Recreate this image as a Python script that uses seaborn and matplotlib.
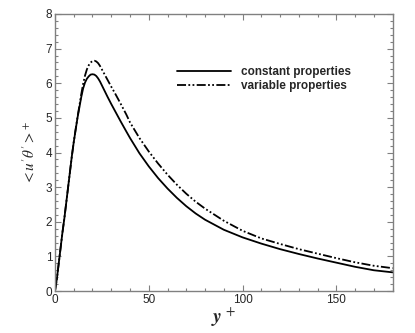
import numpy as np
import pandas as pd
import matplotlib
matplotlib.use("Agg")
import matplotlib.pyplot as plt
import seaborn as sns
from matplotlib.ticker import MultipleLocator

# wall distance y+ and heat flux values
y_plus = [0, 1, 2, 3, 4, 5, 6, 7, 8, 9, 10, 11, 12, 13, 14, 15, 16, 17, 18, 19,
          20, 21, 22, 23, 24, 26, 28, 30, 32, 35, 38, 40, 45, 50, 55, 60, 65, 70,
          75, 80, 90, 100, 110, 120, 130, 140, 150, 160, 170, 180]

constant = [0, 0.35, 0.8, 1.25, 1.7, 2.1, 2.55, 3.0, 3.45, 3.9, 4.3, 4.65, 5.0,
            5.3, 5.6, 5.85, 6.02, 6.13, 6.2, 6.25, 6.26, 6.25, 6.21, 6.14, 6.05,
            5.83, 5.61, 5.4, 5.2, 4.9, 4.61, 4.42, 3.98, 3.6, 3.26, 2.96, 2.69,
            2.45, 2.24, 2.06, 1.77, 1.55, 1.37, 1.21, 1.07, 0.94, 0.82, 0.7,
            0.6, 0.54]

variable = [0, 0.35, 0.8, 1.25, 1.7, 2.1, 2.55, 3.0, 3.45, 3.9, 4.3, 4.67, 5.02,
            5.35, 5.68, 5.98, 6.22, 6.4, 6.52, 6.6, 6.64, 6.65, 6.63, 6.58, 6.5,
            6.3, 6.1, 5.9, 5.71, 5.41, 5.1, 4.87, 4.42, 4.03, 3.68, 3.36, 3.07,
            2.81, 2.58, 2.38, 2.03, 1.74, 1.52, 1.36, 1.21, 1.08, 0.95, 0.83,
            0.73, 0.66]

labels = ["constant properties", "variable properties"]

df = pd.concat([
    pd.DataFrame({"y+": y_plus, "flux": constant, "case": labels[0]}),
    pd.DataFrame({"y+": y_plus, "flux": variable, "case": labels[1]}),
])

sns.set_style("ticks")
plt.rcParams["font.family"] = ["Liberation Sans", "DejaVu Sans"]
plt.rcParams["mathtext.fontset"] = "stix"

fig = plt.figure(figsize=(4.15, 3.33), dpi=100)
ax = fig.add_axes([0.1325, 0.126, 0.8135, 0.832])

sns.lineplot(data=df, x="y+", y="flux", hue="case", style="case",
             palette=["black", "black"],
             dashes={labels[0]: "", labels[1]: (5, 1.3, 1, 1.3, 1, 1.3)},
             linewidth=1.3, ax=ax, sort=False, estimator=None)

ax.set_xlim(0, 180)
ax.set_ylim(0, 8)
ax.xaxis.set_major_locator(MultipleLocator(50))
ax.xaxis.set_minor_locator(MultipleLocator(10))
ax.yaxis.set_major_locator(MultipleLocator(1))
ax.yaxis.set_minor_locator(MultipleLocator(0.2))
ax.tick_params(which="both", direction="in", top=True, right=True,
               color="#808080", labelsize=8.5, pad=2)
ax.tick_params(which="major", length=4.5, width=0.8)
ax.tick_params(which="minor", length=2.5, width=0.8)
for s in ax.spines.values():
    s.set_color("#808080")
    s.set_linewidth(1.0)

ax.set_xlabel(r"$\mathbfit{y}^{\,+}$", fontsize=14, labelpad=0)
ax.set_ylabel(r"$<\mathit{u}'\theta'>^{+}$", fontsize=11, labelpad=6)

leg = ax.legend(loc="upper left", bbox_to_anchor=(0.33, 0.85), frameon=False,
                handlelength=4.6, handletextpad=0.8, labelspacing=0.15,
                prop={"weight": "bold", "size": 8.5})

fig.savefig("out.png", dpi=100)
